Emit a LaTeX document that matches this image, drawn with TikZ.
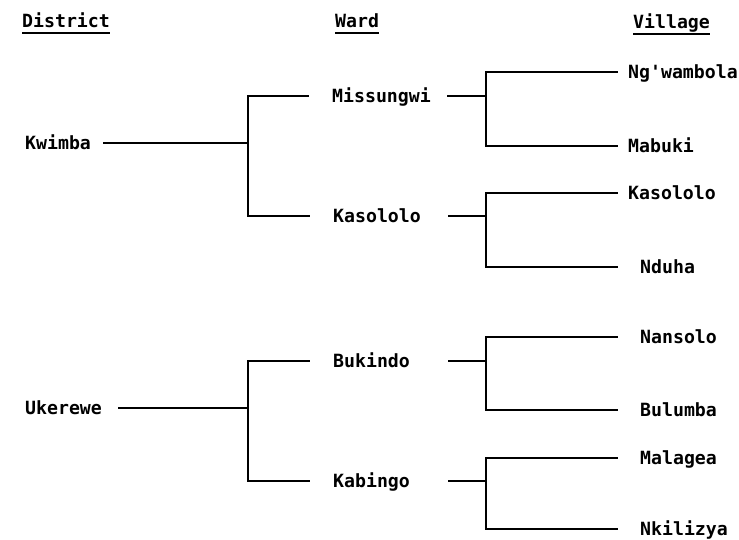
\documentclass[tikz,border=0pt]{standalone}
\usepackage{fontspec}
\newfontfamily\dmono{DejaVu Sans Mono}
\begin{document}
\begin{tikzpicture}[x=1pt,y=-1pt,
  lbl/.style={font=\fontsize{18.2}{20}\selectfont\dmono\bfseries, inner sep=0pt,
              text height=13pt, text depth=0pt, anchor=west},
  distnode/.style={lbl, align=left},
  wardnode/.style={lbl, align=left, text width=115pt},
  villnode/.style={lbl, inner xsep=#1},
  hdr/.style={lbl, text depth=5pt, anchor=base west},
  wire/.style={line width=1.8pt},
  uline/.style={line width=1.6pt}]
\useasboundingbox (0,0) rectangle (739,540);
\fill[white] (0,0) rectangle (739,540);

% headers
\node[hdr] (hD) at (22,28) {District};
\node[hdr] (hW) at (335,28) {Ward};
\node[hdr] (hV) at (633,29) {Village};
\draw[uline] (hD.south west) -- (hD.south east);
\draw[uline] (hW.south west) -- (hW.south east);
\draw[uline] (hV.south west) -- (hV.south east);

% districts
\node[distnode, text width=78pt] (dK) at (25,143) {Kwimba};
\node[distnode, text width=93pt] (dU) at (25,408) {Ukerewe};

% wards
\node[wardnode] (wMis) at (332,96) {Missungwi};
\node[wardnode] (wKas) at (333,216) {Kasololo};
\node[wardnode] (wBuk) at (333,361) {Bukindo};
\node[wardnode] (wKab) at (333,481) {Kabingo};

% villages
\node[villnode=10pt] (vNg)  at (618,72)  {Ng'wambola};
\node[villnode=10pt] (vMab) at (618,146) {Mabuki};
\node[villnode=10pt] (vKas) at (618,193) {Kasololo};
\node[villnode=22pt] (vNdu) at (618,267) {Nduha};
\node[villnode=22pt] (vNan) at (618,337) {Nansolo};
\node[villnode=22pt] (vBul) at (618,410) {Bulumba};
\node[villnode=22pt] (vMal) at (618,458) {Malagea};
\node[villnode=22pt] (vNki) at (618,529) {Nkilizya};

% junctions
\coordinate (jKw) at (248,143);
\coordinate (jUk) at (248,408);
\coordinate (jMis) at (486,96);
\coordinate (jKas) at (486,216);
\coordinate (jBuk) at (486,361);
\coordinate (jKab) at (486,481);

% district -> ward
\draw[wire] (dK.east) -- (jKw);
\draw[wire, shorten >=23pt] (jKw) |- (wMis.west);
\draw[wire, shorten >=23pt] (jKw) |- (wKas.west);
\draw[wire] (dU.east) -- (jUk);
\draw[wire, shorten >=23pt] (jUk) |- (wBuk.west);
\draw[wire, shorten >=23pt] (jUk) |- (wKab.west);

% ward -> village
\draw[wire] (wMis.east) -- (jMis);
\draw[wire] (jMis) |- (vNg.west);
\draw[wire] (jMis) |- (vMab.west);
\draw[wire] (wKas.east) -- (jKas);
\draw[wire] (jKas) |- (vKas.west);
\draw[wire] (jKas) |- (vNdu.west);
\draw[wire] (wBuk.east) -- (jBuk);
\draw[wire] (jBuk) |- (vNan.west);
\draw[wire] (jBuk) |- (vBul.west);
\draw[wire] (wKab.east) -- (jKab);
\draw[wire] (jKab) |- (vMal.west);
\draw[wire] (jKab) |- (vNki.west);
\end{tikzpicture}
\end{document}
